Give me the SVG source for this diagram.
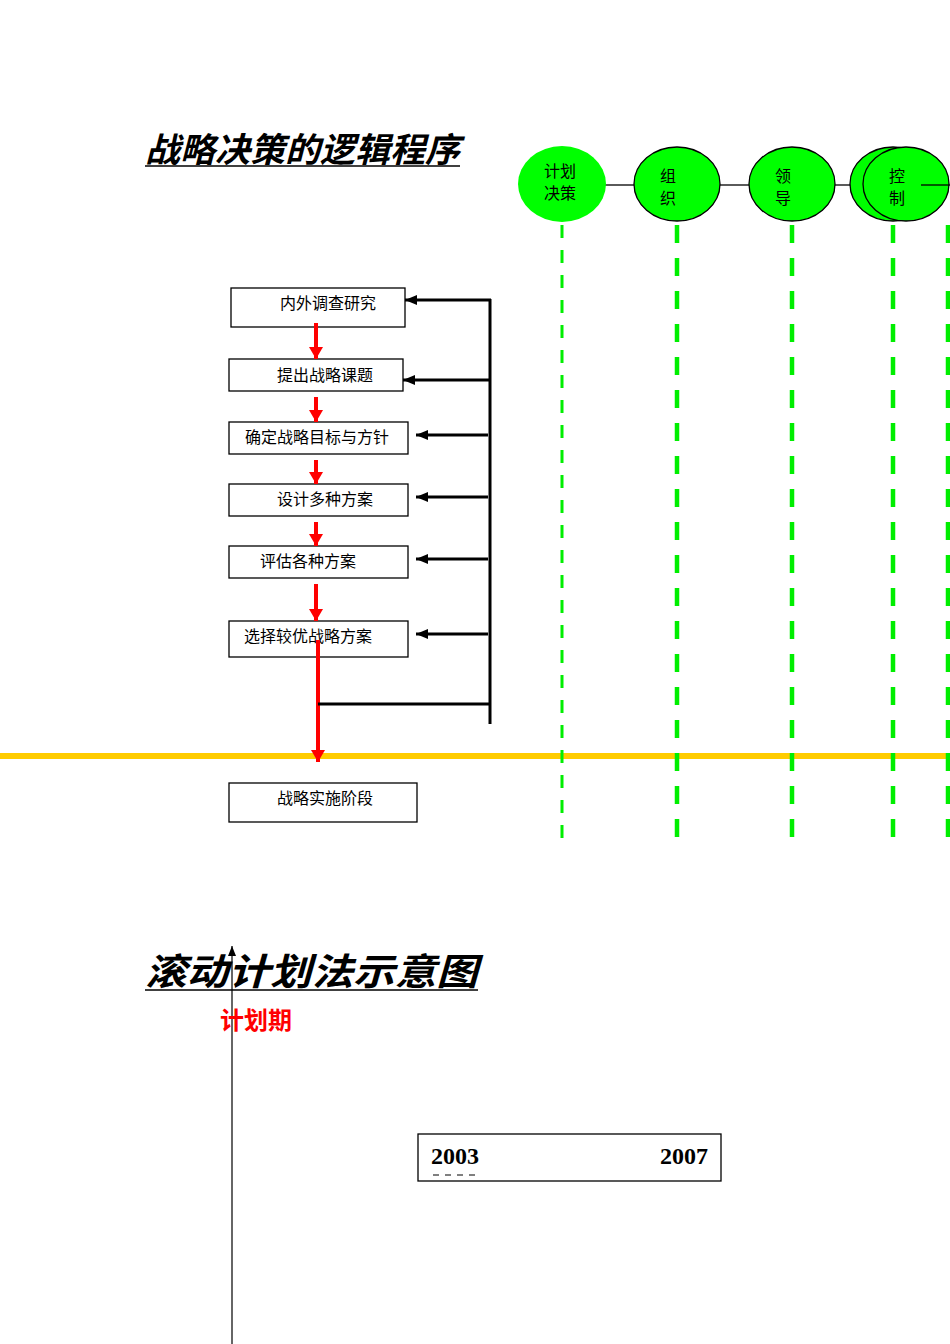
<svg xmlns="http://www.w3.org/2000/svg" width="950" height="1344" viewBox="0 0 950 1344">
<style>
.title{font-family:"Noto Sans CJK SC",sans-serif;font-style:italic;font-weight:bold;fill:#000}
.box{fill:#fff;stroke:#000;stroke-width:1.3}
.bt{font-family:"Noto Sans CJK SC",sans-serif;font-size:16px;fill:#000}
.red{stroke:#ff0000;stroke-width:4;fill:none}
.blk{stroke:#000;stroke-width:3;fill:none}
.gd{stroke:#00ee00;fill:none}
.circ{fill:#00ff00;stroke:#000;stroke-width:1.3}
.ct{font-family:"Noto Sans CJK SC",sans-serif;font-size:16px;fill:#000}
</style>
<defs>
<marker id="ra" markerWidth="12" markerHeight="14" refX="12" refY="7" orient="auto" markerUnits="userSpaceOnUse" viewBox="0 0 12 14">
<path d="M0,0 L12,7 L0,14 Z" fill="#ff0000"/>
</marker>
<marker id="ba" markerWidth="12" markerHeight="10" refX="12" refY="5" orient="auto" markerUnits="userSpaceOnUse" viewBox="0 0 12 10">
<path d="M0,0 L12,5 L0,10 Z" fill="#000"/>
</marker>
<marker id="ax" markerWidth="10" markerHeight="8" refX="10" refY="4" orient="auto" markerUnits="userSpaceOnUse" viewBox="0 0 10 8">
<path d="M0,0 L10,4 L0,8 Z" fill="#000"/>
</marker>
</defs>
<rect width="950" height="1344" fill="#fff"/>

<g id="title1">
<text x="145" y="162" class="title" font-size="34" textLength="315" lengthAdjust="spacingAndGlyphs">战略决策的逻辑程序</text>
<line x1="145" y1="166" x2="460" y2="166" stroke="#000" stroke-width="1.5"/>
</g>

<g id="yellow-line"><line x1="0" y1="756" x2="950" y2="756" stroke="#ffcc00" stroke-width="6"/></g>

<g id="green-dashes">
<line class="gd" x1="562" y1="225" x2="562" y2="843" stroke-width="3" stroke-dasharray="13 12"/>
<line class="gd" x1="677" y1="225" x2="677" y2="848" stroke-width="4.5" stroke-dasharray="18 15"/>
<line class="gd" x1="792" y1="225" x2="792" y2="848" stroke-width="4.5" stroke-dasharray="18 15"/>
<line class="gd" x1="893" y1="225" x2="893" y2="848" stroke-width="4.5" stroke-dasharray="18 15"/>
<line class="gd" x1="948" y1="225" x2="948" y2="848" stroke-width="4.5" stroke-dasharray="18 15"/>
</g>

<g id="circle-links">
<line x1="605" y1="185" x2="634" y2="185" stroke="#000" stroke-width="1.3"/>
<line x1="720" y1="185" x2="749" y2="185" stroke="#000" stroke-width="1.3"/>
<line x1="835" y1="185" x2="851" y2="185" stroke="#000" stroke-width="1.3"/>
</g>

<g id="c-plan">
<ellipse cx="562" cy="184" rx="44" ry="38" fill="#00ff00"/>
<text x="560" y="177" class="ct" font-size="15" text-anchor="middle">计划</text>
<text x="560" y="199" class="ct" font-size="15" text-anchor="middle">决策</text>
</g>
<g id="c-org">
<ellipse cx="677" cy="184" rx="43" ry="37" class="circ"/>
<text x="668" y="182" class="ct" text-anchor="middle">组</text>
<text x="668" y="204" class="ct" text-anchor="middle">织</text>
</g>
<g id="c-lead">
<ellipse cx="792" cy="184" rx="43" ry="37" class="circ"/>
<text x="783" y="182" class="ct" text-anchor="middle">领</text>
<text x="783" y="204" class="ct" text-anchor="middle">导</text>
</g>
<g id="c-ctrl">
<ellipse cx="893" cy="184" rx="43" ry="37" class="circ"/>
<ellipse cx="906" cy="184" rx="43" ry="37" class="circ"/>
<line x1="921" y1="185" x2="950" y2="185" stroke="#000" stroke-width="1.3"/>
<text x="897" y="182" class="ct" text-anchor="middle">控</text>
<text x="897" y="204" class="ct" text-anchor="middle">制</text>
</g>

<g id="n1"><rect class="box" x="231" y="288" width="174" height="39"/><text x="328" y="309" class="bt" text-anchor="middle">内外调查研究</text></g>
<g id="n2"><rect class="box" x="229" y="359" width="174" height="32"/><text x="325" y="381" class="bt" text-anchor="middle">提出战略课题</text></g>
<g id="n3"><rect class="box" x="229" y="422" width="179" height="32"/><text x="317" y="443" class="bt" text-anchor="middle">确定战略目标与方针</text></g>
<g id="n4"><rect class="box" x="229" y="484" width="179" height="32"/><text x="325" y="505" class="bt" text-anchor="middle">设计多种方案</text></g>
<g id="n5"><rect class="box" x="229" y="546" width="179" height="32"/><text x="308" y="567" class="bt" text-anchor="middle">评估各种方案</text></g>
<g id="n6"><rect class="box" x="229" y="621" width="179" height="36"/><text x="308" y="642" class="bt" text-anchor="middle">选择较优战略方案</text></g>
<g id="n7"><rect class="box" x="229" y="783" width="188" height="39"/><text x="325" y="804" class="bt" text-anchor="middle">战略实施阶段</text></g>

<g id="connectors">
<line class="red" x1="316" y1="323" x2="316" y2="359" marker-end="url(#ra)"/>
<line class="red" x1="316" y1="397" x2="316" y2="422" marker-end="url(#ra)"/>
<line class="red" x1="316" y1="460" x2="316" y2="484" marker-end="url(#ra)"/>
<line class="red" x1="316" y1="522" x2="316" y2="546" marker-end="url(#ra)"/>
<line class="red" x1="316" y1="584" x2="316" y2="621" marker-end="url(#ra)"/>
<line class="red" x1="318" y1="640" x2="318" y2="762" marker-end="url(#ra)"/>

<line class="blk" x1="490" y1="299" x2="490" y2="724"/>
<line class="blk" x1="491" y1="300" x2="405" y2="300" marker-end="url(#ba)"/>
<line class="blk" x1="490" y1="380" x2="403" y2="380" marker-end="url(#ba)"/>
<line class="blk" x1="488" y1="435" x2="416" y2="435" marker-end="url(#ba)"/>
<line class="blk" x1="488" y1="497" x2="416" y2="497" marker-end="url(#ba)"/>
<line class="blk" x1="488" y1="559" x2="416" y2="559" marker-end="url(#ba)"/>
<line class="blk" x1="488" y1="634" x2="416" y2="634" marker-end="url(#ba)"/>
<line class="blk" x1="318" y1="704" x2="490" y2="704"/>

<line x1="232" y1="1344" x2="232" y2="946" stroke="#333" stroke-width="1.5" marker-end="url(#ax)"/>
</g>

<g id="title2">
<text x="145" y="985" class="title" font-size="37" textLength="333" lengthAdjust="spacingAndGlyphs">滚动计划法示意图</text>
<line x1="145" y1="990" x2="478" y2="990" stroke="#000" stroke-width="1.5"/>
</g>

<g id="label-period">
<text x="220" y="1029" font-family="Noto Sans CJK SC,sans-serif" font-weight="bold" font-size="24" fill="#ff0000">计划期</text>
</g>

<g id="years">
<rect x="418" y="1134" width="303" height="47" fill="#fff" stroke="#000" stroke-width="1.3"/>
<text x="431" y="1164" font-family="Liberation Serif,serif" font-weight="bold" font-size="24" fill="#000">2003</text>
<text x="708" y="1164" font-family="Liberation Serif,serif" font-weight="bold" font-size="24" fill="#000" text-anchor="end">2007</text>
<line x1="433" y1="1175" x2="481" y2="1175" stroke="#000" stroke-width="1" stroke-dasharray="6 6"/>
</g>
</svg>
